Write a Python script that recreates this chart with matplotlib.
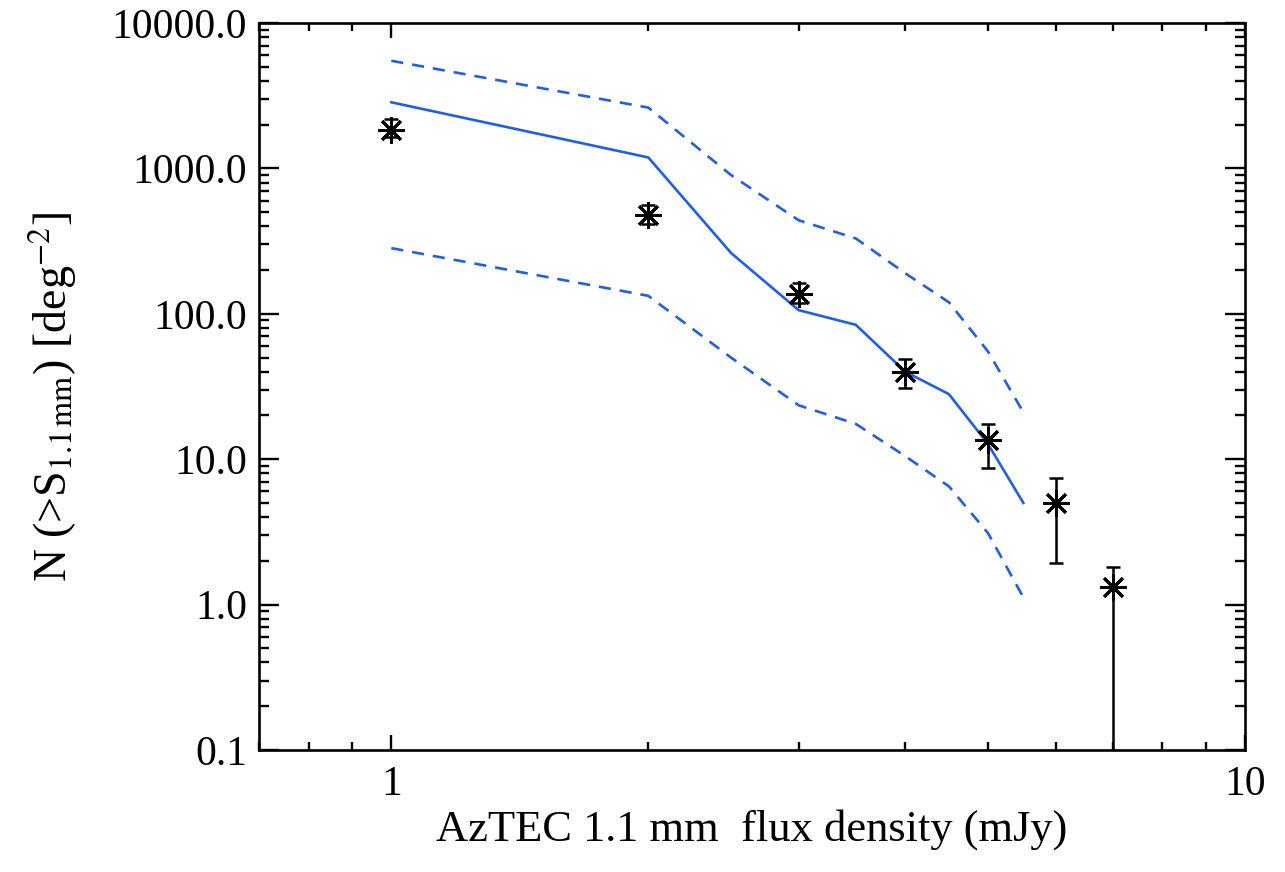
import numpy as np
import matplotlib
matplotlib.use('Agg')
import matplotlib.pyplot as plt
from matplotlib.ticker import LogLocator, FixedLocator, FuncFormatter, NullFormatter

plt.rcParams['font.family'] = ['Liberation Serif', 'DejaVu Serif']
plt.rcParams['mathtext.fontset'] = 'stix'

# measured number counts
flux = [1, 2, 3, 4, 5, 6, 7]
counts = [1850, 480, 136, 40, 13.6, 5.0, 1.32]
counts_hi = [2200, 560, 162, 49, 17.5, 7.4, 1.80]
counts_lo = [1650, 415, 118, 31, 8.7, 1.93, 0.0]

# model counts with upper / lower envelopes
model_flux = [1, 2, 2.5, 3, 3.5, 4, 4.5, 5, 5.5]
model = [2850, 1190, 262, 106, 84, 40, 28, 12.7, 5.0]
model_hi = [5500, 2620, 900, 440, 330, 190, 120, 55, 21]
model_lo = [283, 133, 50, 23.5, 17.5, 10.5, 6.5, 3.1, 1.12]

blue = '#1f5fe0'

fig = plt.figure(figsize=(12.85, 8.72), dpi=100)
ax = fig.add_axes([0.2016, 0.1399, 0.7673, 0.8337])

ax.plot(model_flux, model, color=blue, lw=1.9)
ax.plot(model_flux, model_hi, color=blue, lw=1.9, ls=(0, (4.6, 3.4)))
ax.plot(model_flux, model_lo, color=blue, lw=1.9, ls=(0, (4.6, 3.4)))

c = np.array(counts)
yerr = [c - np.array(counts_lo), np.array(counts_hi) - c]
ax.errorbar(flux, counts, yerr=yerr, fmt='none', ecolor='k', elinewidth=1.8,
            capsize=5, capthick=1.8)
ax.plot(flux, counts, ls='none', marker=(8, 2, 0), ms=19, mew=2.1, color='k')

ax.set_xscale('log')
ax.set_yscale('log')
ax.set_xlim(0.7, 10)
ax.set_ylim(0.1, 10000)

ax.xaxis.set_major_locator(FixedLocator([1, 10]))
ax.xaxis.set_major_formatter(FuncFormatter(lambda v, p: '%d' % v))
ax.xaxis.set_minor_locator(LogLocator(base=10, subs=np.arange(2, 10)))
ax.xaxis.set_minor_formatter(NullFormatter())
ax.yaxis.set_major_locator(LogLocator(base=10, numticks=10))
ax.yaxis.set_major_formatter(FuncFormatter(lambda v, p: '%.1f' % v))
ax.yaxis.set_minor_locator(LogLocator(base=10, subs=np.arange(2, 10), numticks=10))
ax.yaxis.set_minor_formatter(NullFormatter())

ax.tick_params(which='both', direction='in', top=True, right=True, width=1.7,
               labelsize=30, colors='k')
ax.tick_params(axis='x', which='major', length=11, pad=11)
ax.tick_params(axis='x', which='minor', length=5.5)
ax.tick_params(axis='y', which='major', length=14.4, pad=8.6)
ax.tick_params(axis='y', which='minor', length=7.2)
for s in ax.spines.values():
    s.set_linewidth(1.9)

ax.set_xlabel('AzTEC 1.1 mm  flux density (mJy)', fontsize=32, labelpad=4)
ax.set_ylabel(r'N (>S$_{\mathrm{1.1\,mm}}$) [deg$^{-2}$]', fontsize=33)
ax.yaxis.set_label_coords(-0.183, 0.486)

fig.savefig('out.png', dpi=100)
